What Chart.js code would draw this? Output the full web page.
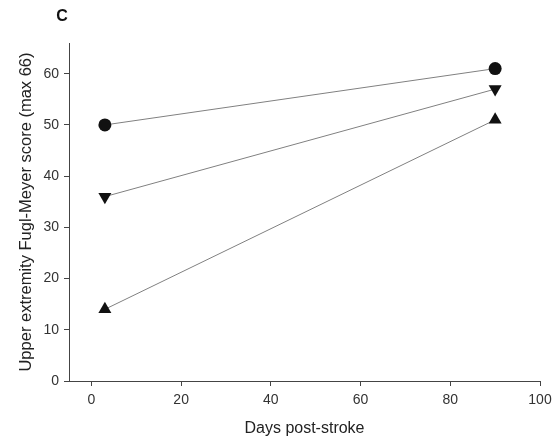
<!DOCTYPE html>
<html>
<head>
<meta charset="utf-8">
<script src="https://cdn.jsdelivr.net/npm/chart.js@4"></script>
<style>
  html, body { margin: 0; padding: 0; background: #fff; }
  #wrap { width: 554px; height: 438px; }
</style>
</head>
<body>
<div id="wrap"><canvas id="chart" width="554" height="438"></canvas></div>
<script>
// days post-stroke at each assessment
const days = [3, 90];
// Fugl-Meyer scores per patient
const circleScores = [50, 61];
const downScores = [36, 57];
const upScores = [14, 51];

const xTicks = [0, 20, 40, 60, 80, 100];
const yTicks = [0, 10, 20, 30, 40, 50, 60];

const ink = '#111';
const axisColor = '#444';
const font = "'Liberation Sans', Arial, sans-serif";

function points(ys) {
    return days.map((d, i) => ({ x: d, y: ys[i] }));
}

function series(ys, style, rotation) {
    return {
        data: points(ys),
        borderColor: '#808080',
        borderWidth: 1,
        pointStyle: style,
        rotation: rotation,
        pointRadius: style === 'circle' ? 6.5 : 7.5,
        pointBackgroundColor: ink,
        pointBorderColor: ink,
        pointBorderWidth: 0,
        showLine: true
    };
}

// panel letter
const panelLabel = {
    id: 'panelLabel',
    afterDraw(chart) {
        const ctx = chart.ctx;
        ctx.save();
        ctx.fillStyle = ink;
        ctx.font = 'bold 16px ' + font;
        ctx.textAlign = 'center';
        ctx.textBaseline = 'middle';
        ctx.fillText('C', 62, 17);
        ctx.restore();
    }
};

new Chart(document.getElementById('chart').getContext('2d'), {
    type: 'scatter',
    data: {
        datasets: [
            series(circleScores, 'circle', 0),
            series(downScores, 'triangle', 180),
            series(upScores, 'triangle', 0)
        ]
    },
    options: {
        responsive: false,
        animation: false,
        layout: { padding: { left: 0, right: 14, top: 43, bottom: 0 } },
        plugins: {
            legend: { display: false },
            tooltip: { enabled: false }
        },
        scales: {
            x: {
                type: 'linear',
                min: -5,
                max: 100,
                afterBuildTicks: s => { s.ticks = xTicks.map(v => ({ value: v })); },
                afterFit: s => { s.height = 57; s.paddingLeft = 0; s.paddingRight = 0; },
                grid: { drawOnChartArea: false, drawTicks: true, tickLength: 5, color: axisColor },
                border: { display: true, color: axisColor, width: 1 },
                ticks: { color: '#333', font: { family: font, size: 14 }, padding: 6, maxRotation: 0 },
                title: {
                    display: true,
                    text: 'Days post-stroke',
                    color: '#222',
                    font: { family: font, size: 16 },
                    padding: { top: 0, bottom: 0 }
                }
            },
            y: {
                min: 0,
                max: 66,
                afterBuildTicks: s => { s.ticks = yTicks.map(v => ({ value: v })); },
                afterFit: s => { s.width = 69; s.paddingTop = 0; s.paddingBottom = 0; },
                grid: { drawOnChartArea: false, drawTicks: true, tickLength: 5, color: axisColor },
                border: { display: true, color: axisColor, width: 1 },
                ticks: { color: '#333', font: { family: font, size: 14 }, padding: 5 },
                title: {
                    display: true,
                    text: 'Upper extremity Fugl-Meyer score (max 66)',
                    color: '#222',
                    font: { family: font, size: 16.5 },
                    padding: { top: 17, bottom: 0 }
                }
            }
        }
    },
    plugins: [panelLabel]
});
</script>
</body>
</html>
